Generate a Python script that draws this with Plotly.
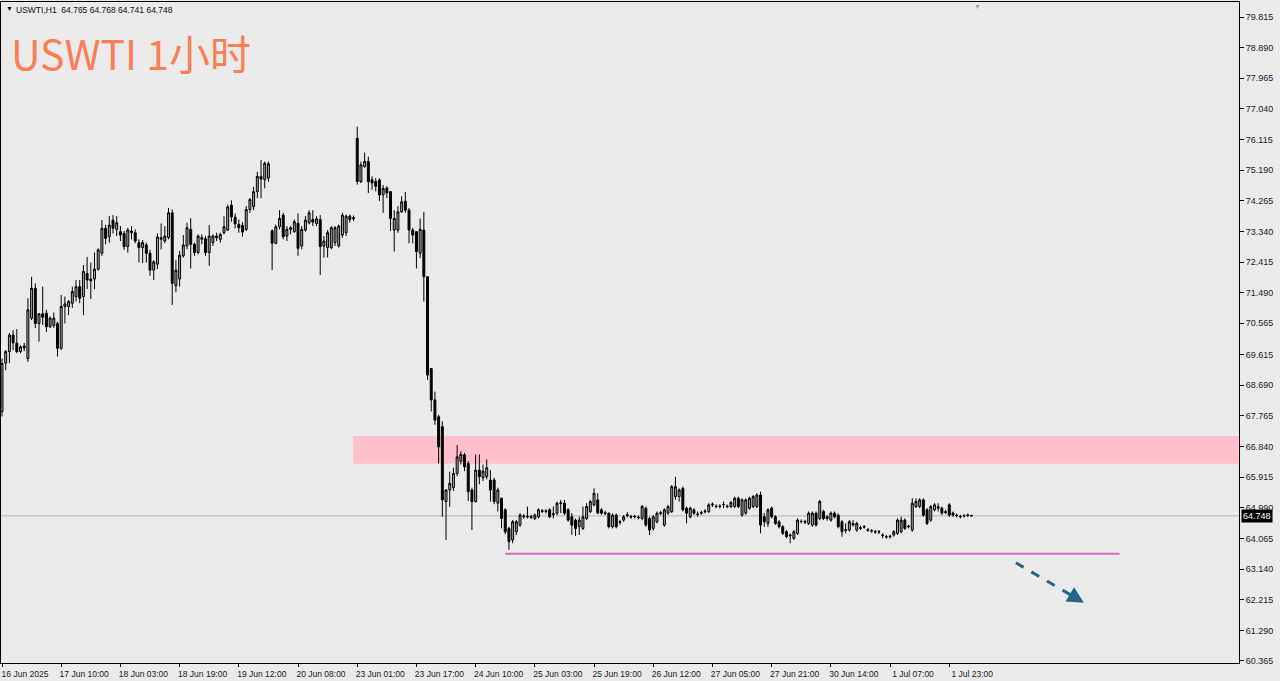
import plotly.graph_objects as go

# ---------------- data (hourly bars, USWTI H1) ----------------
OPEN = [
    67.90, 69.36, 69.71, 70.21, 69.96, 69.71, 69.82, 69.50, 70.72, 71.62,
    70.56, 70.85, 70.87, 70.46, 70.50, 70.56, 69.81, 71.07, 71.07, 71.17,
    71.37, 71.67, 71.37, 72.07, 71.90, 71.90, 72.20, 72.68, 73.43, 73.18,
    73.68, 73.40, 73.33, 73.28, 72.88, 73.35, 73.30, 73.00, 72.85, 72.93,
    72.68, 72.17, 72.35, 73.10, 73.05, 73.15, 73.90, 71.70, 71.90, 72.60,
    72.90, 73.40, 72.95, 72.70, 73.10, 73.12, 72.70, 73.00, 73.20, 73.10,
    73.30, 73.38, 74.13, 73.77, 73.55, 73.52, 73.40, 74.00, 74.09, 74.54,
    75.00, 74.90, 74.95, 73.36, 72.98, 73.48, 73.83, 73.20, 73.40, 73.33,
    73.58, 72.90, 73.38, 73.60, 73.70, 73.58, 73.70, 72.90, 72.85, 72.85,
    73.00, 72.90, 73.23, 73.30, 73.80, 73.72, 76.15, 74.84, 75.30, 75.45,
    74.90, 74.85, 74.89, 74.44, 74.65, 74.54, 73.38, 73.38, 73.93, 74.25,
    73.98, 73.38, 73.33, 72.68, 73.38, 71.97, 69.20, 68.25, 67.74, 67.44,
    65.18, 65.53, 65.60, 66.03, 66.40, 66.59, 66.33, 65.53, 65.18, 66.13,
    65.90, 65.93, 65.83, 65.83, 65.13, 65.28, 64.93, 64.37, 64.02, 64.27,
    64.47, 64.72, 64.74, 64.70, 64.67, 64.72, 64.88, 64.90, 64.93, 64.78,
    64.83, 65.12, 65.13, 64.93, 64.72, 64.62, 64.42, 64.37, 64.67, 64.88,
    65.08, 65.23, 64.93, 64.84, 64.83, 64.42, 64.77, 64.55, 64.62, 64.76,
    64.73, 64.72, 64.71, 64.67, 64.98, 64.67, 64.37, 64.57, 64.82, 64.47,
    64.83, 64.88, 65.33, 65.33, 65.58, 64.98, 64.72, 64.93, 64.78, 64.83,
    64.87, 64.88, 65.08, 65.04, 65.03, 65.08, 65.04, 65.03, 65.03, 65.28,
    64.77, 64.83, 64.98, 65.03, 65.03, 65.38, 64.72, 64.52, 64.98, 64.72,
    64.57, 64.42, 64.27, 64.17, 64.07, 64.22, 64.57, 64.58, 64.52, 64.47,
    64.83, 64.67, 64.88, 64.67, 64.62, 64.83, 64.77, 64.57, 64.33, 64.32,
    64.52, 64.32, 64.37, 64.41, 64.33, 64.30, 64.27, 64.26, 64.17, 64.12,
    64.11, 64.17, 64.22, 64.27, 64.62, 64.42, 64.32, 65.03, 65.03, 65.23,
    64.93, 64.62, 64.93, 64.98, 64.98, 64.88, 65.08, 64.83, 64.77, 64.72,
    64.74, 64.76, 64.765,
]
HIGH = [
    69.50, 69.76, 70.27, 70.36, 70.39, 69.90, 69.97, 71.32, 71.97, 71.77,
    70.87, 71.67, 70.97, 70.77, 70.89, 70.61, 71.42, 71.37, 71.27, 71.67,
    71.87, 71.87, 72.32, 72.57, 72.40, 72.70, 72.83, 73.68, 73.54, 73.80,
    73.83, 73.80, 73.50, 73.35, 73.45, 73.50, 73.40, 73.10, 73.08, 73.00,
    72.78, 72.47, 73.28, 73.58, 73.50, 74.05, 74.00, 72.47, 72.75, 73.23,
    73.60, 73.74, 73.00, 73.25, 73.25, 73.20, 73.53, 73.25, 73.30, 73.30,
    73.80, 74.15, 74.28, 73.88, 73.70, 73.62, 74.10, 74.35, 74.69, 75.14,
    75.50, 75.45, 75.45, 73.40, 73.55, 73.98, 73.90, 73.50, 73.50, 73.70,
    73.88, 73.50, 73.80, 73.98, 73.98, 73.80, 73.83, 73.20, 73.38, 73.50,
    73.50, 73.55, 73.90, 73.85, 73.85, 73.82, 76.50, 75.45, 75.72, 75.60,
    75.00, 74.95, 74.95, 74.74, 74.70, 74.55, 73.98, 74.10, 74.40, 74.53,
    74.05, 73.45, 73.35, 73.73, 73.93, 71.99, 69.20, 68.50, 67.80, 67.60,
    65.55, 66.08, 66.20, 66.89, 66.70, 66.65, 66.40, 65.60, 66.60, 66.60,
    66.30, 66.45, 66.13, 65.90, 65.60, 65.30, 64.98, 64.42, 64.62, 64.62,
    64.83, 64.80, 65.03, 64.78, 64.82, 64.98, 64.95, 64.95, 64.98, 65.03,
    65.18, 65.23, 65.23, 64.98, 64.83, 64.67, 64.72, 65.03, 65.13, 65.23,
    65.58, 65.43, 64.98, 64.90, 64.85, 64.82, 64.82, 64.62, 64.77, 64.86,
    64.78, 64.78, 64.76, 65.08, 65.03, 64.72, 64.77, 64.88, 64.90, 64.98,
    65.08, 65.68, 65.93, 65.58, 65.63, 65.03, 65.03, 64.98, 64.88, 64.90,
    64.95, 65.13, 65.15, 65.10, 65.10, 65.18, 65.09, 65.20, 65.33, 65.33,
    65.28, 65.28, 65.33, 65.38, 65.43, 65.48, 64.83, 64.98, 65.03, 64.77,
    64.62, 64.47, 64.32, 64.22, 64.32, 64.67, 64.64, 64.63, 64.88, 64.88,
    64.88, 65.23, 64.93, 64.77, 64.88, 64.88, 64.82, 64.62, 64.52, 64.62,
    64.62, 64.57, 64.45, 64.47, 64.38, 64.35, 64.32, 64.32, 64.22, 64.17,
    64.18, 64.32, 64.67, 64.72, 64.67, 64.48, 65.28, 65.28, 65.28, 65.28,
    64.98, 65.08, 65.13, 65.13, 65.03, 64.93, 65.13, 64.88, 64.82, 64.78,
    64.80, 64.82, 64.768,
]
LOW = [
    67.75, 69.15, 69.36, 69.76, 69.66, 69.66, 69.72, 69.40, 70.66, 70.42,
    70.01, 70.51, 70.30, 70.42, 70.42, 69.56, 69.76, 70.56, 70.81, 71.03,
    71.22, 71.17, 70.81, 71.60, 71.30, 71.60, 72.15, 72.60, 72.95, 73.00,
    73.28, 73.20, 73.05, 72.78, 72.70, 73.10, 72.98, 72.40, 72.38, 72.40,
    72.00, 71.87, 72.20, 72.80, 72.98, 73.10, 71.12, 71.50, 71.67, 72.55,
    72.80, 72.22, 72.60, 72.65, 72.95, 72.60, 72.30, 72.90, 73.05, 73.00,
    73.25, 73.35, 73.63, 73.43, 73.30, 73.18, 73.35, 73.90, 73.98, 74.34,
    74.34, 74.64, 74.84, 72.17, 72.95, 73.40, 73.10, 73.05, 73.25, 73.30,
    72.60, 72.80, 73.33, 73.55, 73.50, 73.50, 72.02, 72.55, 72.55, 72.80,
    72.90, 72.85, 73.15, 73.20, 73.60, 73.65, 74.75, 74.80, 75.26, 74.50,
    74.60, 74.55, 74.26, 73.90, 74.35, 73.35, 72.73, 73.30, 73.90, 73.90,
    72.98, 72.98, 72.22, 72.53, 71.22, 68.85, 67.90, 67.50, 66.33, 64.72,
    64.02, 65.02, 65.50, 65.95, 66.30, 66.10, 65.20, 64.32, 65.15, 65.70,
    65.80, 65.85, 65.18, 65.10, 64.88, 64.37, 64.20, 63.72, 63.92, 64.17,
    64.42, 64.66, 64.67, 64.65, 64.62, 64.67, 64.83, 64.82, 64.68, 64.67,
    64.77, 64.83, 64.77, 64.57, 64.17, 64.14, 64.17, 64.32, 64.62, 64.83,
    65.03, 64.80, 64.78, 64.77, 64.37, 64.37, 64.37, 64.48, 64.57, 64.70,
    64.66, 64.67, 64.64, 64.62, 64.42, 64.17, 64.30, 64.52, 64.77, 64.42,
    64.78, 64.83, 65.23, 65.18, 64.88, 64.52, 64.67, 64.78, 64.72, 64.78,
    64.82, 64.83, 65.02, 64.98, 64.97, 64.98, 64.98, 64.98, 64.98, 64.98,
    64.72, 64.78, 64.93, 64.98, 64.98, 64.22, 64.42, 64.42, 64.67, 64.47,
    64.37, 64.17, 64.07, 63.92, 64.02, 64.17, 64.52, 64.50, 64.47, 64.42,
    64.42, 64.62, 64.62, 64.60, 64.57, 64.67, 64.37, 64.12, 64.22, 64.27,
    64.42, 64.27, 64.32, 64.36, 64.27, 64.24, 64.21, 64.20, 64.07, 64.06,
    64.06, 64.12, 64.17, 64.22, 64.32, 64.37, 64.27, 64.98, 64.98, 64.72,
    64.47, 64.57, 64.88, 64.88, 64.78, 64.80, 64.72, 64.72, 64.70, 64.67,
    64.70, 64.71, 64.741,
]
CLOSE = [
    69.35, 69.71, 70.21, 69.97, 69.71, 69.85, 69.88, 70.97, 71.62, 70.56,
    70.85, 70.75, 70.46, 70.72, 70.72, 69.81, 71.07, 71.15, 71.22, 71.52,
    71.67, 71.32, 72.13, 71.87, 71.85, 72.20, 72.78, 73.43, 73.13, 73.53,
    73.43, 73.60, 73.23, 72.88, 73.38, 73.30, 73.05, 72.85, 73.00, 72.68,
    72.17, 72.42, 73.17, 73.15, 73.20, 73.90, 71.77, 72.17, 72.62, 72.93,
    73.45, 72.95, 72.70, 73.20, 73.15, 72.70, 73.20, 73.20, 73.15, 73.25,
    73.48, 74.08, 73.78, 73.57, 73.45, 73.32, 74.00, 74.30, 74.54, 75.00,
    74.92, 75.40, 75.38, 72.98, 73.48, 73.73, 73.18, 73.40, 73.45, 73.63,
    72.83, 73.40, 73.68, 73.90, 73.62, 73.72, 72.88, 73.05, 73.30, 73.45,
    73.45, 73.50, 73.83, 73.80, 73.70, 73.75, 74.85, 75.35, 75.45, 74.84,
    74.80, 74.70, 74.44, 74.64, 74.50, 73.73, 73.73, 73.93, 74.23, 73.98,
    73.38, 73.23, 72.73, 73.40, 71.97, 69.00, 68.25, 67.64, 66.83, 65.23,
    65.53, 65.73, 66.03, 66.53, 66.60, 66.23, 65.48, 65.18, 66.13, 65.93,
    66.10, 66.20, 65.53, 65.18, 65.53, 64.67, 64.27, 63.97, 64.57, 64.57,
    64.77, 64.74, 64.72, 64.72, 64.77, 64.93, 64.90, 64.88, 64.72, 64.81,
    65.13, 65.14, 64.83, 64.62, 64.47, 64.37, 64.62, 64.72, 65.03, 65.18,
    65.43, 64.83, 64.83, 64.82, 64.42, 64.77, 64.42, 64.57, 64.72, 64.78,
    64.71, 64.73, 64.70, 65.03, 64.47, 64.32, 64.72, 64.83, 64.84, 64.93,
    65.03, 65.63, 65.63, 65.53, 64.93, 64.83, 64.98, 64.83, 64.80, 64.84,
    64.89, 65.08, 65.10, 65.03, 65.04, 65.09, 65.03, 65.15, 65.28, 65.03,
    65.23, 65.23, 65.28, 65.33, 65.38, 64.47, 64.57, 64.93, 64.72, 64.52,
    64.42, 64.22, 64.12, 64.15, 64.27, 64.62, 64.58, 64.56, 64.83, 64.83,
    64.47, 65.18, 64.67, 64.72, 64.83, 64.72, 64.42, 64.27, 64.31, 64.57,
    64.47, 64.52, 64.39, 64.42, 64.31, 64.29, 64.26, 64.27, 64.16, 64.11,
    64.13, 64.27, 64.62, 64.62, 64.37, 64.43, 65.13, 65.18, 65.23, 64.77,
    64.52, 65.03, 65.08, 65.02, 64.83, 64.85, 64.77, 64.77, 64.76, 64.73,
    64.75, 64.77, 64.748,
]
assert len(OPEN) == len(HIGH) == len(LOW) == len(CLOSE)
BARS = list(range(len(CLOSE)))

X_TICK_BARS = [0, 16, 32, 48, 64, 80, 96, 112, 128, 144, 160, 176, 192, 208, 224, 240, 256]
X_TICK_LABELS = ["16 Jun 2025", "17 Jun 10:00", "18 Jun 03:00", "18 Jun 19:00", "19 Jun 12:00",
                 "20 Jun 08:00", "23 Jun 01:00", "23 Jun 17:00", "24 Jun 10:00", "25 Jun 03:00",
                 "25 Jun 19:00", "26 Jun 12:00", "27 Jun 05:00", "27 Jun 21:00", "30 Jun 14:00",
                 "1 Jul 07:00", "1 Jul 23:00"]
Y_TICKS = [79.815, 78.890, 77.965, 77.040, 76.115, 75.190, 74.265, 73.340, 72.415, 71.490,
           70.565, 69.615, 68.690, 67.765, 66.840, 65.915, 64.990, 64.065, 63.140, 62.215,
           61.290, 60.365]
Y_TICK_LABELS = [f"{v:.3f}" for v in Y_TICKS]

CURRENT_PRICE = 64.748
HEADER = "USWTI,H1  64.765 64.768 64.741 64.748"
TITLE = "USWTI 1小时"

# annotation levels (price / bar units)
ZONE_START_BAR, ZONE_TOP, ZONE_BOTTOM = 94.9, 67.16, 66.32
SUPPORT_PRICE, SUPPORT_START_BAR, SUPPORT_END_BAR = 63.60, 136.0, 302.0
ARROW_START = (274.0, 63.33)
ARROW_LINE_END = (290.2, 62.27)
ARROW_TIP = (292.4, 62.12)

X_RANGE = [-0.27, 334.3]
Y_RANGE = [60.304, 80.268]

BG = "#EAEAEA"
FONT = "Liberation Sans"

fig = go.Figure()
fig.add_trace(go.Candlestick(
    x=BARS, open=OPEN, high=HIGH, low=LOW, close=CLOSE,
    increasing=dict(line=dict(color="#000000", width=1), fillcolor="#A6A6A6"),
    decreasing=dict(line=dict(color="#000000", width=1), fillcolor="#000000"),
    whiskerwidth=0, hoverinfo="skip", showlegend=False,
))

# supply zone
fig.add_shape(type="rect", xref="x", yref="y", x0=ZONE_START_BAR, x1=X_RANGE[1],
              y0=ZONE_BOTTOM, y1=ZONE_TOP, fillcolor="#FFC0CB", line=dict(width=0), layer="below")
# current price line
fig.add_shape(type="line", xref="paper", yref="y", x0=0, x1=1, y0=CURRENT_PRICE, y1=CURRENT_PRICE,
              line=dict(color="#B4B4B4", width=1), layer="below")
# support line
fig.add_shape(type="line", xref="x", yref="y", x0=SUPPORT_START_BAR, x1=SUPPORT_END_BAR,
              y0=SUPPORT_PRICE, y1=SUPPORT_PRICE, line=dict(color="#DD66CC", width=2))
# dashed arrow
ARROW_COLOR = "#24648C"
fig.add_shape(type="line", xref="x", yref="y", x0=ARROW_START[0], y0=ARROW_START[1],
              x1=ARROW_LINE_END[0], y1=ARROW_LINE_END[1],
              line=dict(color=ARROW_COLOR, width=3, dash="dash"))
fig.add_annotation(x=ARROW_TIP[0], y=ARROW_TIP[1], ax=ARROW_LINE_END[0] - 0.8, ay=ARROW_LINE_END[1] + 0.05,
                   xref="x", yref="y", axref="x", ayref="y", text="", showarrow=True,
                   arrowhead=2, arrowsize=1.1, arrowwidth=3, arrowcolor=ARROW_COLOR)

# header and title
fig.add_annotation(xref="paper", yref="paper", x=0, y=1, xanchor="left", yanchor="top", xshift=3, yshift=-1,
                   text="▼", showarrow=False, font=dict(family=FONT, size=7, color="#111111"))
fig.add_annotation(xref="paper", yref="paper", x=0, y=1, xanchor="left", yanchor="top", xshift=13, yshift=-1,
                   text=HEADER, showarrow=False, font=dict(family=FONT, size=8.5, color="#111111"))
fig.add_annotation(xref="paper", yref="paper", x=0, y=1, xanchor="left", yanchor="top", xshift=8, yshift=-18,
                   text=TITLE, showarrow=False,
                   font=dict(family="Noto Sans CJK SC", size=41, color="#FA7F55"))
# chart-shift marker
fig.add_annotation(xref="paper", yref="paper", x=0.789, y=1, xanchor="center", yanchor="top", yshift=1,
                   text="▼", showarrow=False, font=dict(family=FONT, size=7, color="#A0A0A0"))
# current price label
fig.add_annotation(xref="paper", yref="y", x=1, y=CURRENT_PRICE, xanchor="left", yanchor="middle", xshift=2,
                   text=f"{CURRENT_PRICE:.3f}", showarrow=False, bgcolor="#000000", borderpad=1,
                   font=dict(family=FONT, size=9, color="#FFFFFF"))

fig.update_layout(
    width=1280, height=681,
    margin=dict(l=1, r=41, t=2, b=18),
    paper_bgcolor=BG, plot_bgcolor=BG,
    boxgap=0.25,
    showlegend=False,
    xaxis=dict(range=X_RANGE, rangeslider=dict(visible=False), showgrid=False, zeroline=False,
               tickmode="array", tickvals=X_TICK_BARS, ticktext=X_TICK_LABELS,
               ticks="outside", ticklen=3, tickcolor="#000000", ticklabelshift=23,
               tickfont=dict(family=FONT, size=8.5, color="#222222"),
               showline=True, linecolor="#000000", linewidth=1, mirror=True),
    yaxis=dict(range=Y_RANGE, side="right", showgrid=False, zeroline=False,
               tickmode="array", tickvals=Y_TICKS, ticktext=Y_TICK_LABELS,
               ticks="outside", ticklen=4, tickcolor="#000000",
               tickfont=dict(family=FONT, size=9, color="#222222"),
               showline=True, linecolor="#000000", linewidth=1, mirror=True),
)

fig.write_html("out.html", config={"displayModeBar": False},
               post_script="document.body.style.margin='0';document.body.style.background='" + BG + "';")
